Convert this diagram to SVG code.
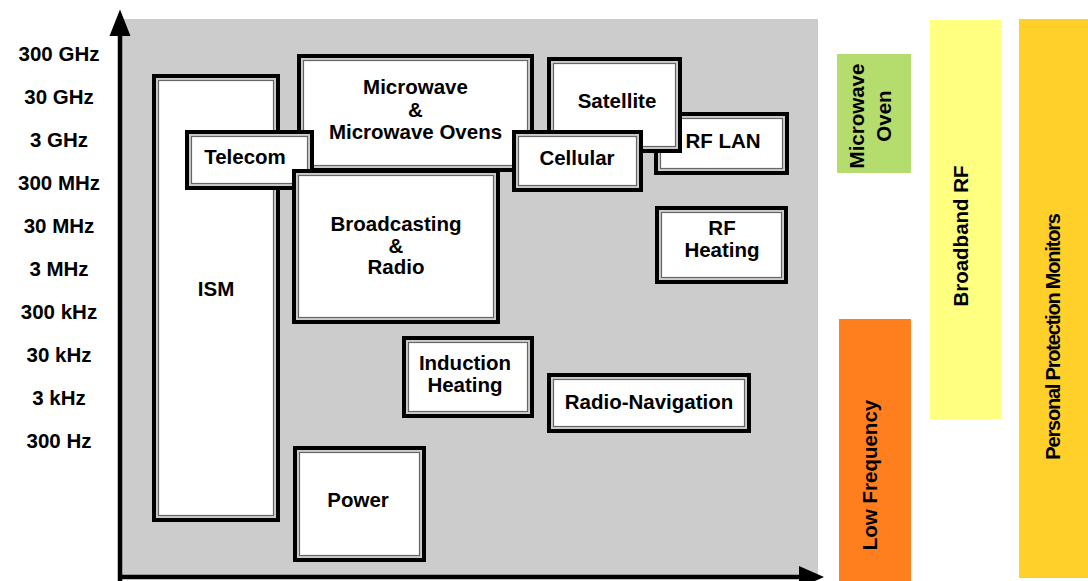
<svg xmlns="http://www.w3.org/2000/svg" width="1088" height="581" viewBox="0 0 1088 581">
<style>
text{font-family:"Liberation Sans",Arial,Helvetica,sans-serif;font-weight:bold;font-size:20.5px;fill:#000}
.lab{text-anchor:middle}
.o{fill:#cccccc;stroke:#000;stroke-width:4}
.i{fill:#fff;stroke:#666;stroke-width:1.2}
.ax{stroke:#000;stroke-width:4.5;fill:none}
</style>
<rect width="1088" height="581" fill="#fff"/>
<rect x="122" y="19" width="696" height="558" fill="#cccccc"/>

<g id="axis-labels" class="lab">
<text x="59" y="60.5">300 GHz</text>
<text x="59" y="103.5">30 GHz</text>
<text x="59" y="146.5">3 GHz</text>
<text x="59" y="189.5">300 MHz</text>
<text x="59" y="232.5">30 MHz</text>
<text x="59" y="275.5">3 MHz</text>
<text x="59" y="318.5">300 kHz</text>
<text x="59" y="361.5">30 kHz</text>
<text x="59" y="404.5">3 kHz</text>
<text x="59" y="447.5">300 Hz</text>
</g>

<g id="ism"><rect class="o" x="154" y="76" width="124" height="444"/><rect class="i" x="158.5" y="80.5" width="115" height="435"/><text class="lab" x="216" y="296">ISM</text></g>
<g id="microwave"><rect class="o" x="299" y="56" width="233" height="114"/><rect class="i" x="303.5" y="60.5" width="224" height="105"/><text class="lab" x="415.5" y="94">Microwave</text><text class="lab" x="415.5" y="116.5">&amp;</text><text class="lab" x="415.5" y="139">Microwave Ovens</text></g>
<g id="telecom"><rect class="o" x="187" y="132" width="125" height="56"/><rect class="i" x="191.5" y="136.5" width="116" height="47"/><text class="lab" x="245" y="164">Telecom</text></g>
<g id="broadcasting"><rect class="o" x="294" y="171" width="204" height="151"/><rect class="i" x="298.5" y="175.5" width="195" height="142"/><text class="lab" x="396" y="231">Broadcasting</text><text class="lab" x="396" y="252.5">&amp;</text><text class="lab" x="396" y="274">Radio</text></g>
<g id="rflan"><rect class="o" x="656" y="114" width="131" height="59"/><rect class="i" x="660.5" y="118.5" width="122" height="50"/><text class="lab" x="723" y="148">RF LAN</text></g>
<g id="satellite"><rect class="o" x="549" y="59" width="131" height="92"/><rect class="i" x="553.5" y="63.5" width="122" height="83"/><text class="lab" x="617" y="108">Satellite</text></g>
<g id="cellular"><rect class="o" x="514" y="132" width="127" height="58"/><rect class="i" x="518.5" y="136.5" width="118" height="49"/><text class="lab" x="577" y="165">Cellular</text></g>
<g id="rfheating"><rect class="o" x="657" y="208" width="129" height="74"/><rect class="i" x="661.5" y="212.5" width="120" height="65"/><text class="lab" x="722" y="235">RF</text><text class="lab" x="722" y="257">Heating</text></g>
<g id="induction"><rect class="o" x="404" y="338" width="128" height="78"/><rect class="i" x="408.5" y="342.5" width="119" height="69"/><text class="lab" x="465" y="370">Induction</text><text class="lab" x="465" y="392">Heating</text></g>
<g id="radionav"><rect class="o" x="549" y="375" width="200" height="56"/><rect class="i" x="553.5" y="379.5" width="191" height="47"/><text class="lab" x="649" y="409">Radio-Navigation</text></g>
<g id="power"><rect class="o" x="295" y="448" width="129" height="112"/><rect class="i" x="299.5" y="452.5" width="120" height="103"/><text class="lab" x="358" y="507">Power</text></g>

<g id="axes">
<line class="ax" x1="120" y1="30" x2="120" y2="581"/>
<line class="ax" x1="118" y1="577" x2="805" y2="577"/>
<polygon points="120,9.5 109.5,36 130.5,36" fill="#000"/>
<polygon points="824,577 799,566 799,588" fill="#000"/>
</g>

<g id="microwave-oven"><rect x="837" y="54" width="74" height="119" fill="#b5dd6e"/><text class="lab" transform="translate(864,116) rotate(-90)">Microwave</text><text class="lab" transform="translate(891,116) rotate(-90)">Oven</text></g>
<g id="low-frequency"><rect x="839" y="319" width="72" height="262" fill="#ff7f1e"/><text class="lab" transform="translate(877,475) rotate(-90)">Low Frequency</text></g>
<g id="broadband-rf"><rect x="930" y="20" width="71" height="399" fill="#ffff80"/><text class="lab" transform="translate(968,236) rotate(-90)">Broadband RF</text></g>
<g id="ppm"><rect x="1019" y="19" width="69" height="559" fill="#ffd02a"/><text class="lab" style="font-size:20px;letter-spacing:-1.2px" transform="translate(1060,337) rotate(-90)">Personal Protection Monitors</text></g>
</svg>
